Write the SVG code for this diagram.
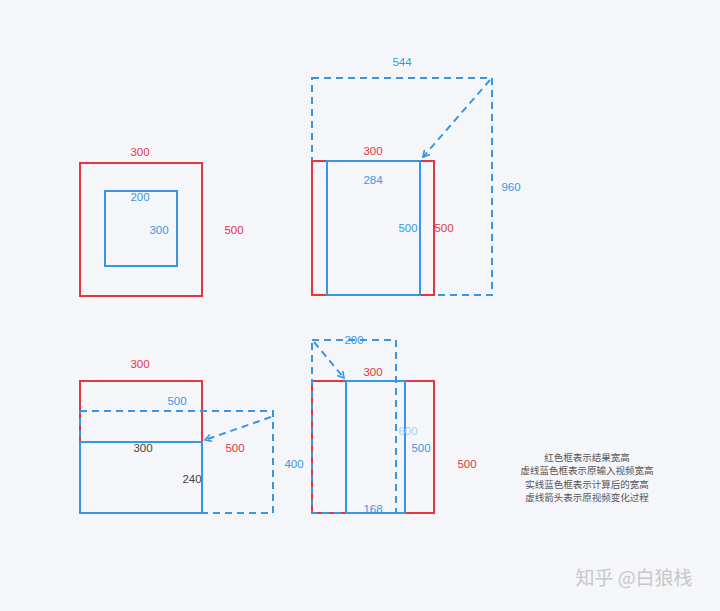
<svg xmlns="http://www.w3.org/2000/svg" width="720" height="611" viewBox="0 0 720 611">
<defs>
<style>
.red{fill:none;stroke:#e5353f;stroke-width:2}
.blue{fill:none;stroke:#3a96e2;stroke-width:2}
.dash{fill:none;stroke:#3a96e2;stroke-width:2;stroke-dasharray:7 5}
.t{font-family:"Liberation Sans",Arial,sans-serif;font-size:11.5px;text-anchor:middle}
.tr{fill:#e5353f}
.tb{fill:#3a96e2}
.td{fill:#444}
.tl{fill:#a9d0f2}
.leg{font-family:"Noto Sans CJK SC",sans-serif;font-size:9.5px;fill:#555;text-anchor:middle}
.wm{font-family:"Noto Sans CJK SC",sans-serif;font-size:19px;fill:#c8c8c8;text-anchor:middle}
</style>
<marker id="ah" viewBox="0 0 10 10" refX="8" refY="5" markerWidth="9" markerHeight="9" orient="auto" markerUnits="userSpaceOnUse">
<path d="M1,1 L8,5 L1,9" fill="none" stroke="#3a96e2" stroke-width="1.8"/>
</marker>
</defs>
<rect width="720" height="611" fill="#f5f6fa"/>
<g id="panel1">
<rect class="red" x="80" y="163" width="122" height="133"/>
<rect class="blue" x="105" y="191" width="72" height="75"/>
<text class="t tr" x="140" y="156">300</text>
<text class="t tb" x="140" y="201">200</text>
<text class="t tb" x="159" y="234">300</text>
<text class="t tr" x="234" y="234">500</text>
</g>
<g id="panel2">
<rect class="dash" x="312" y="78" width="180" height="217"/>
<rect class="red" x="312" y="161" width="122" height="134"/>
<rect class="blue" x="327" y="161" width="93" height="134"/>
<text class="t tb" x="402" y="66">544</text>
<text class="t tr" x="373" y="155">300</text>
<text class="t tb" x="373" y="184">284</text>
<text class="t tb" x="408" y="232">500</text>
<text class="t tr" x="444" y="232">500</text>
<text class="t tb" x="511" y="191">960</text>
</g>
<g id="panel3">
<rect class="red" x="80" y="381" width="122" height="132"/>
<rect class="dash" x="80" y="411" width="193" height="102"/>
<rect class="blue" x="80" y="442" width="122" height="71"/>
<text class="t tr" x="140" y="368">300</text>
<text class="t tb" x="177" y="405">500</text>
<text class="t td" x="143" y="452">300</text>
<text class="t td" x="192" y="483">240</text>
<text class="t tr" x="235" y="452">500</text>
</g>
<g id="panel4">
<rect class="red" x="312" y="381" width="122" height="132"/>
<rect class="dash" x="312" y="340" width="84" height="173"/>
<rect class="blue" x="346" y="381" width="59" height="132"/>
<text class="t tb" x="294" y="468">400</text>
<text class="t tb" x="354" y="344">200</text>
<text class="t tr" x="373" y="376">300</text>
<text class="t tl" x="408" y="435">600</text>
<text class="t tb" x="421" y="452">500</text>
<text class="t tr" x="467" y="468">500</text>
<text class="t tb" x="373" y="513">168</text>
</g>
<g id="connectors">
<line class="dash" x1="490" y1="80" x2="423" y2="157" marker-end="url(#ah)"/>
<line class="dash" x1="271" y1="417" x2="205" y2="440" marker-end="url(#ah)"/>
<line class="dash" x1="314" y1="342" x2="344" y2="378" marker-end="url(#ah)"/>
</g>
<g id="legend">
<text class="leg" x="587" y="461">红色框表示结果宽高</text>
<text class="leg" x="587" y="474">虚线蓝色框表示原输入视频宽高</text>
<text class="leg" x="587" y="488">实线蓝色框表示计算后的宽高</text>
<text class="leg" x="587" y="501">虚线箭头表示原视频变化过程</text>
</g>
<text class="wm" x="634" y="585">知乎 @白狼栈</text>
</svg>
